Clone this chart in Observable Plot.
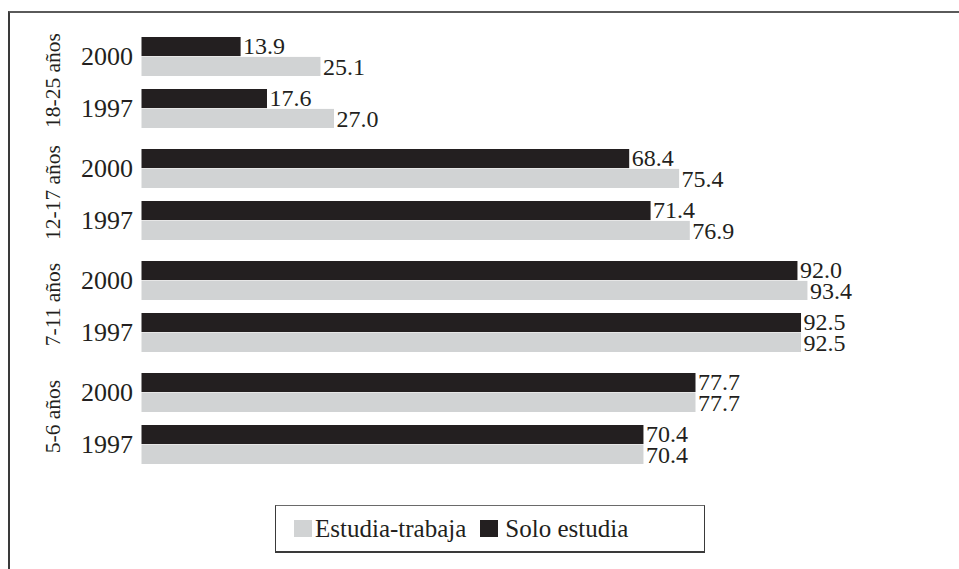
<!DOCTYPE html>
<html>
<head>
<meta charset="utf-8">
<script src="https://cdn.jsdelivr.net/npm/d3@7"></script>
<script src="https://cdn.jsdelivr.net/npm/@observablehq/plot@0.6"></script>
<style>
  html, body { margin: 0; padding: 0; background: #fff; }
  body { width: 959px; height: 569px; overflow: hidden; position: relative; font-family: "Liberation Serif", serif; color: #231f20; }
  #frame {
    position: absolute; left: 8px; top: 11px; right: 0; bottom: 0;
    border-top: 2px solid #5a5a5a; border-left: 2px solid #3a3a3a;
  }
  #frame svg { display: block; }
  .legend {
    margin-left: 265px; margin-top: 22px;
    width: 430px; height: 48px;
    border: 1px solid #3a3a3a; border-bottom-width: 2px; border-top-color: #6a6a6a;
    display: flex; align-items: center; padding-left: 18px; box-sizing: border-box;
    font-size: 25px; line-height: 1;
  }
  .sw { display: inline-block; width: 18px; height: 17px; }
  .sw.et { background: #d1d3d4; margin-right: 3px; }
  .sw.se { background: #231f20; margin-left: 14px; margin-right: 7px; }
</style>
</head>
<body>
<div id="frame"></div>
<script>
// Age groups and survey years, top to bottom
const groups = ["18-25 años", "12-17 años", "7-11 años", "5-6 años"];
const years = ["2000", "1997"];
// Percentages, ordered group by group, 2000 then 1997
const soloEstudia    = [13.9, 17.6, 68.4, 71.4, 92.0, 92.5, 77.7, 70.4];
const estudiaTrabaja = [25.1, 27.0, 75.4, 76.9, 93.4, 92.5, 77.7, 70.4];
const seriesNames = ["Estudia-trabaja", "Solo estudia"];
const seriesColors = ["#d1d3d4", "#231f20"];

const rows = [];
groups.forEach((g, gi) => years.forEach((yr, yi) => {
  const i = gi * years.length + yi;
  rows.push({group: g, year: yr, solo: soloEstudia[i], trabaja: estudiaTrabaja[i]});
}));

const half = 19.9;

const chart = Plot.plot({
  width: 949,
  height: 470,
  marginLeft: 131.5,
  marginRight: 104.5,
  marginTop: 23,
  marginBottom: 17,
  style: {fontFamily: "Liberation Serif, serif", fontSize: "26px", color: "#231f20", background: "transparent"},
  x: {domain: [0, 100], axis: null},
  fy: {domain: groups, paddingInner: 0.177, paddingOuter: 0, axis: null},
  y: {domain: years, paddingInner: 0.245, paddingOuter: 0, tickSize: 0, tickPadding: 9, label: null},
  marks: [
    // Solo estudia: upper half of each year band
    Plot.barX(rows, {fy: "group", y: "year", x: "solo", fill: seriesColors[1], insetBottom: half}),
    // Estudia-trabaja: lower half of each year band
    Plot.barX(rows, {fy: "group", y: "year", x: "trabaja", fill: seriesColors[0], insetTop: half}),
    Plot.text(rows, {fy: "group", y: "year", x: "solo", text: d => d.solo.toFixed(1),
      textAnchor: "start", dx: 2, dy: -half / 2 - 0.5, fontSize: 24, fill: "#231f20"}),
    Plot.text(rows, {fy: "group", y: "year", x: "trabaja", text: d => d.trabaja.toFixed(1),
      textAnchor: "start", dx: 2, dy: half / 2 + 0.5, fontSize: 24, fill: "#231f20"}),
    // Rotated age-group labels
    Plot.text(groups, {fy: d => d, text: d => d, frameAnchor: "left", rotate: -90,
      textAnchor: "middle", dx: -88.5, dy: -3, fontSize: 21.5, fill: "#231f20"})
  ]
});

const frame = document.getElementById("frame");
frame.appendChild(chart);

const legend = document.createElement("div");
legend.className = "legend";
legend.innerHTML =
  `<span class="sw et"></span><span>${seriesNames[0]}</span>` +
  `<span class="sw se"></span><span>${seriesNames[1]}</span>`;
frame.appendChild(legend);
</script>
</body>
</html>
